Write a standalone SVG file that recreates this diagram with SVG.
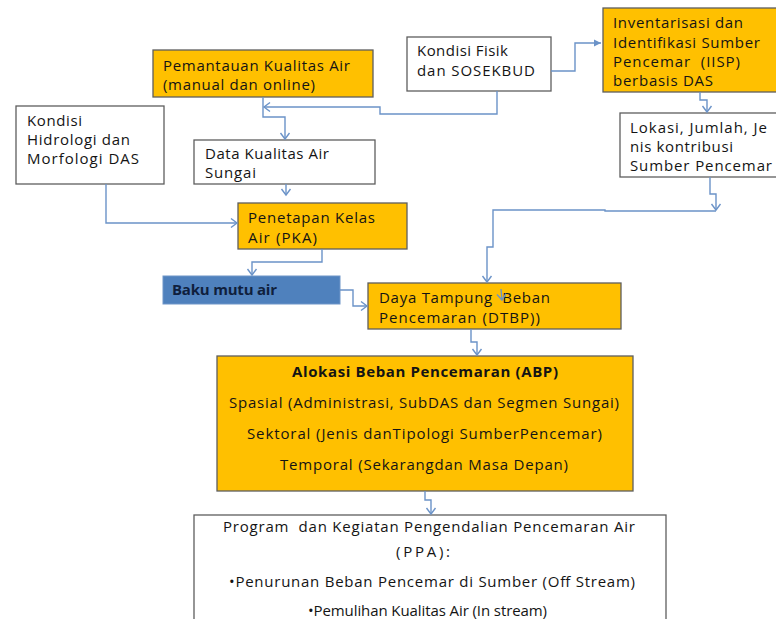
<svg xmlns="http://www.w3.org/2000/svg" width="776" height="619" viewBox="0 0 776 619">
<style>
.box{stroke:#5e5e5e;stroke-width:1.3}
.org{fill:#ffc000}
.wht{fill:#ffffff}
.blu{fill:#4f81bd;stroke:#6f95c8;stroke-width:1}
text{font-family:"Open Sans","Liberation Sans",sans-serif;font-size:15px;fill:#141414}
.b{font-weight:bold}
.nav{fill:#0f1f3d;font-weight:bold}
.con path{fill:none;stroke:#6b93c8;stroke-width:1.4}
</style>
<defs>
<marker id="v" markerWidth="12" markerHeight="12" refX="9" refY="6" orient="auto" markerUnits="userSpaceOnUse">
<path d="M3,1.5 L9,6 L3,10.5" fill="none" stroke="#6b93c8" stroke-width="1.4"/>
</marker>
<marker id="f" markerWidth="10" markerHeight="10" refX="8" refY="5" orient="auto" markerUnits="userSpaceOnUse">
<path d="M1,1.5 L8,5 L1,8.5 Z" fill="#6b93c8"/>
</marker>
</defs>
<rect width="776" height="619" fill="#ffffff"/>

<g id="pemantauan">
<rect class="box org" x="153" y="50" width="220" height="47"/>
<text x="163" y="71" textLength="187">Pemantauan Kualitas Air</text>
<text x="163" y="90" textLength="152">(manual dan online)</text>
</g>
<g id="hidrologi">
<rect class="box wht" x="16" y="106" width="148" height="78"/>
<text x="27" y="126" textLength="55">Kondisi</text>
<text x="27" y="145" textLength="103">Hidrologi dan</text>
<text x="27" y="164" textLength="112">Morfologi DAS</text>
</g>
<g id="data-kualitas">
<rect class="box wht" x="194" y="140" width="181" height="44"/>
<text x="205" y="159" textLength="124">Data Kualitas Air</text>
<text x="205" y="178" textLength="51">Sungai</text>
</g>
<g id="fisik">
<rect class="box wht" x="407" y="37" width="144" height="54"/>
<text x="417" y="56" textLength="91">Kondisi Fisik</text>
<text x="417" y="76" textLength="118">dan SOSEKBUD</text>
</g>
<g id="iisp">
<rect class="box org" x="603" y="8" width="190" height="84"/>
<text x="613" y="28" textLength="130">Inventarisasi dan</text>
<text x="613" y="48" textLength="147">Identifikasi Sumber</text>
<text x="613" y="67" textLength="127" xml:space="preserve">Pencemar  (IISP)</text>
<text x="613" y="86" textLength="100">berbasis DAS</text>
</g>
<g id="lokasi">
<rect class="box wht" x="620" y="113" width="180" height="64"/>
<text x="630" y="133" textLength="137">Lokasi, Jumlah, Je</text>
<text x="630" y="152" textLength="103">nis kontribusi</text>
<text x="630" y="171" textLength="142">Sumber Pencemar</text>
</g>
<g id="pka">
<rect class="box org" x="238" y="203" width="169" height="46"/>
<text x="248" y="223" textLength="127">Penetapan Kelas</text>
<text x="248" y="243" textLength="69">Air (PKA)</text>
</g>
<g id="baku">
<rect class="blu" x="163" y="276" width="177" height="28"/>
<text class="nav" x="172" y="295" textLength="105">Baku mutu air</text>
</g>
<g id="dtbp">
<rect class="box org" x="368" y="283" width="253" height="46"/>
<text x="379" y="303" textLength="171" xml:space="preserve">Daya Tampung  Beban</text>
<text x="379" y="323" textLength="161">Pencemaran (DTBP))</text>
</g>
<g id="abp">
<rect class="box org" x="217" y="356" width="416" height="135"/>
<text class="b" x="292" y="377" textLength="266">Alokasi Beban Pencemaran (ABP)</text>
<text x="229" y="408" textLength="390">Spasial (Administrasi, SubDAS dan Segmen Sungai)</text>
<text x="247" y="439" textLength="355">Sektoral (Jenis danTipologi SumberPencemar)</text>
<text x="280" y="470" textLength="288">Temporal (Sekarangdan Masa Depan)</text>
</g>
<g id="ppa">
<rect class="box wht" x="194" y="515" width="472" height="120"/>
<text x="223" y="532" textLength="412" xml:space="preserve">Program  dan Kegiatan Pengendalian Pencemaran Air</text>
<text x="396" y="557" textLength="54">(PPA):</text>
<text x="229" y="587" textLength="406">•Penurunan Beban Pencemar di Sumber (Off Stream)</text>
<text x="308" y="616" textLength="239">•Pemulihan Kualitas Air (In stream)</text>
</g>

<g id="connectors" class="con">
<path d="M263,97 V117 H285 V139" marker-end="url(#v)"/>
<path d="M497,91 V114 H380 V107 H264" marker-end="url(#v)"/>
<path d="M551,71 H575 V43 H601" marker-end="url(#f)"/>
<path d="M700,92 V100 H707 V112" marker-end="url(#v)"/>
<path d="M710,177 V194 H716 V210" marker-end="url(#v)"/>
<path d="M716,211 H605 V210 H493 V247 H487 V282" marker-end="url(#v)"/>
<path d="M286,184 V195" marker-end="url(#v)"/>
<path d="M106,184 V223 H237" marker-end="url(#v)"/>
<path d="M322,249 V262 H252 V275" marker-end="url(#v)"/>
<path d="M340,290 H353 V306 H367" marker-end="url(#v)"/>
<path d="M471,329 V342 H477 V355" marker-end="url(#v)"/>
<path d="M425,491 V500 H431 V514" marker-end="url(#v)"/>
<path d="M501,289 L502,300" marker-end="url(#v)"/>
</g>
</svg>
